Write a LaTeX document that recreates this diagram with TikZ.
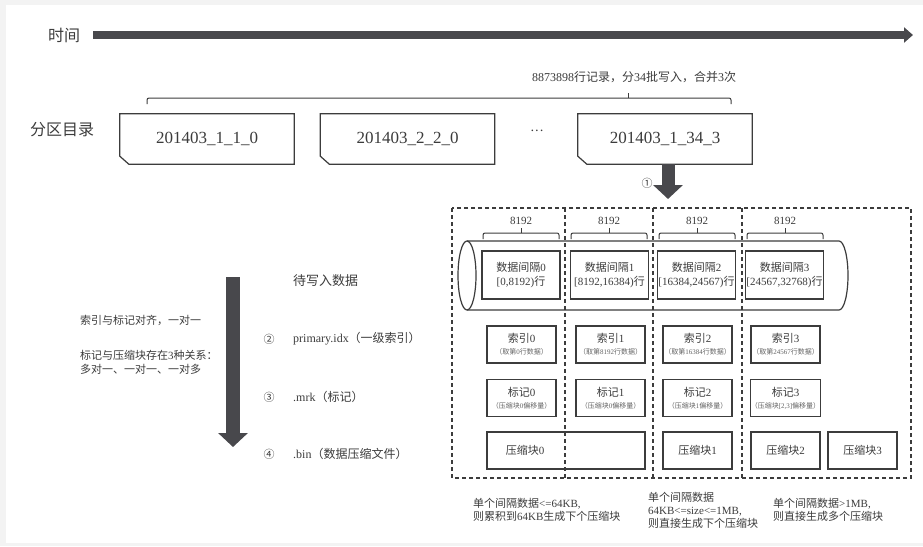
\documentclass[tikz,border=0pt]{standalone}
\usepackage{fontspec}
\setmainfont{Liberation Serif}
\newfontfamily\cjkfont{Noto Sans CJK SC}
% switch to the CJK font for Chinese characters and full-width signs
\XeTeXinterchartokenstate=1
\newXeTeXintercharclass\cjkclass
\newcount\cjkchar
\def\setcjkrange#1#2{\cjkchar=#1
  \loop\XeTeXcharclass\cjkchar=\cjkclass
  \advance\cjkchar by 1 \ifnum\cjkchar<#2 \repeat}
\setcjkrange{"4E00}{"A000}
\setcjkrange{"3000}{"3040}
\setcjkrange{"FF00}{"FFF0}
\setcjkrange{"2460}{"2500}
\XeTeXinterchartoks 0 \cjkclass={\begingroup\cjkfont}
\XeTeXinterchartoks 4095 \cjkclass={\begingroup\cjkfont}
\XeTeXinterchartoks \cjkclass 0={\endgroup}
\XeTeXinterchartoks \cjkclass 4095={\endgroup}
\usepackage{tikz}
\usetikzlibrary{arrows.meta,positioning}
\definecolor{ink}{HTML}{3C3C3C}
\definecolor{bar}{HTML}{48484C}
\definecolor{frame}{HTML}{F3F3F3}
\newcommand\subfont{\fontsize{7}{8}\selectfont\color{ink!80}}

\begin{document}
\begin{tikzpicture}[x=1pt, y=-1pt,
  every node/.style={text=ink, inner sep=0pt},
  part/.style={minimum width=174pt, minimum height=50pt, font=\fontsize{17}{20}\selectfont},
  cell/.style={draw=ink, line width=1.2pt, align=center},
  databox/.style={cell, minimum width=78pt, minimum height=48pt, font=\fontsize{11}{14}\selectfont},
  idxbox/.style={cell, minimum width=69pt, minimum height=37pt, font=\fontsize{11}{14}\selectfont},
  note/.style={align=left, font=\fontsize{11}{13}\selectfont},
  fat/.style={draw=bar, line width=14pt, -{Triangle[length=14pt, width=29pt]}},
  dash line/.style={draw=ink, line width=1.1pt, dash pattern=on 4pt off 3pt},
  bracket/.style={draw=ink, line width=1pt, rounded corners=2pt}
]
\fill[frame] (0,0) rectangle (923,546);
\fill[white] (6,5) rectangle (923,543);
\useasboundingbox (0,0) rectangle (923,546);

% time axis
\node[font=\fontsize{16}{18}\selectfont] (time) at (64,35) {时间};
\coordinate (timeend) at (913,35);
\draw[bar, line width=8pt, -{Triangle[length=9pt, width=15pt]}] ([xshift=13pt]time.east) -- (timeend);

% partitions
\node[font=\fontsize{16}{18}\selectfont] (dir) at (62,130) {分区目录};
\node[part] (part1) at (207,139) {201403\_1\_1\_0};
\node[part] (part2) at (407.5,139) {201403\_2\_2\_0};
\node[font=\fontsize{14}{16}\selectfont] (dots) at (537,133) {\textperiodcentered\textperiodcentered\textperiodcentered};
\node[part] (part3) at (665,139) {201403\_1\_34\_3};
\foreach \p in {part1,part2,part3}
  \draw[ink, line width=1.2pt] (\p.north west) -- (\p.north east) -- (\p.south east)
    -- ([xshift=9pt]\p.south west) -- ([yshift=8pt]\p.south west) -- cycle;
\node[font=\fontsize{12}{14}\selectfont] (rows) at (634,77) {8873898行记录，分34批写入，合并3次};
\draw[bracket] (147,104) |- (731,98) -- (731,104);
\draw[ink, line width=1pt] (628,98) -- (628,93);

% first step
\coordinate (cut) at (668,199);
\draw[fat, line width=13pt] (part3.south -| cut) -- (cut);
\node[font=\fontsize{11}{12}\selectfont] (s1) at (647,183) {①};

% granules
\draw[dash line] (452,208) rectangle (911,478);
\draw[ink, line width=1.2pt] (467,275.5) ellipse [x radius=9, y radius=34.5];
\draw[ink, line width=1.2pt] (467,241) -- (839,241) arc[start angle=-90, end angle=90, x radius=9, y radius=34.5] -- (467,310);
\foreach \x in {565,653,742}
  \draw[dash line] (\x,208) -- (\x,478);
\foreach \x in {521,609,697,785} {
  \draw[bracket] (\x-38,239) |- (\x+38,233) -- (\x+38,239);
  \draw[ink, line width=1pt] (\x,233) -- (\x,228);
}
\node[font=\fontsize{11}{12}\selectfont] (w0) at (521,221) {8192};
\node[font=\fontsize{11}{12}\selectfont] (w1) at (609,221) {8192};
\node[font=\fontsize{11}{12}\selectfont] (w2) at (697,221) {8192};
\node[font=\fontsize{11}{12}\selectfont] (w3) at (785,221) {8192};

\node[databox, fill=white] (data0) at (521,275) {数据间隔0\\{}[0,8192)行};
\node[databox, fill=white] (data1) at (609.5,275) {数据间隔1\\{}[8192,16384)行};
\node[databox, fill=white] (data2) at (696.5,275) {数据间隔2\\{}[16384,24567)行};
\node[databox, fill=white] (data3) at (784.5,275) {数据间隔3\\{}[24567,32768)行};

\node[idxbox] (idx0) at (521.5,344.5) {索引0\\[-2pt]{\subfont（取第0行数据）}};
\node[idxbox] (idx1) at (610.5,344.5) {索引1\\[-2pt]{\subfont（取第8192行数据）}};
\node[idxbox] (idx2) at (697.5,344.5) {索引2\\[-2pt]{\subfont（取第16384行数据）}};
\node[idxbox] (idx3) at (785.5,344.5) {索引3\\[-2pt]{\subfont（取第24567行数据）}};

\node[idxbox] (mrk0) at (521.5,398) {标记0\\[-2pt]{\subfont（压缩块0偏移量）}};
\node[idxbox] (mrk1) at (610.5,398) {标记1\\[-2pt]{\subfont（压缩块0偏移量）}};
\node[idxbox] (mrk2) at (697.5,398) {标记2\\[-2pt]{\subfont（压缩块1偏移量）}};
\node[idxbox] (mrk3) at (785.5,398) {标记3\\[-2pt]{\subfont（压缩块[2,3]偏移量）}};

\node[idxbox, minimum width=158pt] (bin0) at (566,450.5) {};
\node (bin0txt) at (525,450.5) {\fontsize{11}{14}\selectfont 压缩块0};
\node[idxbox] (bin1) at (697.5,450.5) {压缩块1};
\node[idxbox] (bin2) at (785.5,450.5) {压缩块2};
\node[idxbox] (bin3) at (862.5,450.5) {压缩块3};

% notes under the granules
\node[note, anchor=west] (n1) at (473,510) {单个间隔数据<=64KB,\\则累积到64KB生成下个压缩块};
\node[note, anchor=west] (n2) at (648,510) {单个间隔数据\\64KB<=size<=1MB,\\则直接生成下个压缩块};
\node[note, anchor=west] (n3) at (773,510) {单个间隔数据>1MB,\\则直接生成多个压缩块};

% write order
\coordinate (flowtop) at (233,277);
\coordinate (flowend) at (233,447);
\draw[fat] (flowtop) -- (flowend);
\node[font=\fontsize{13}{15}\selectfont, anchor=west] (todo) at (293,281) {待写入数据};
\node[font=\fontsize{11}{12}\selectfont] (s2) at (269,339) {②};
\node[font=\fontsize{12}{14}\selectfont, anchor=west] (f2) at (293,339) {primary.idx（一级索引）};
\node[font=\fontsize{11}{12}\selectfont] (s3) at (269,397) {③};
\node[font=\fontsize{12}{14}\selectfont, anchor=west] (f3) at (293,397) {.mrk（标记）};
\node[font=\fontsize{11}{12}\selectfont] (s4) at (269,454) {④};
\node[font=\fontsize{12}{14}\selectfont, anchor=west] (f4) at (293,454) {.bin（数据压缩文件）};
\node[note, anchor=west] (l1) at (80,320) {索引与标记对齐，一对一};
\node[note, anchor=west, font=\fontsize{11}{14}\selectfont] (l2) at (80,362) {标记与压缩块存在3种关系：\\多对一、一对一、一对多};
\end{tikzpicture}
\end{document}
